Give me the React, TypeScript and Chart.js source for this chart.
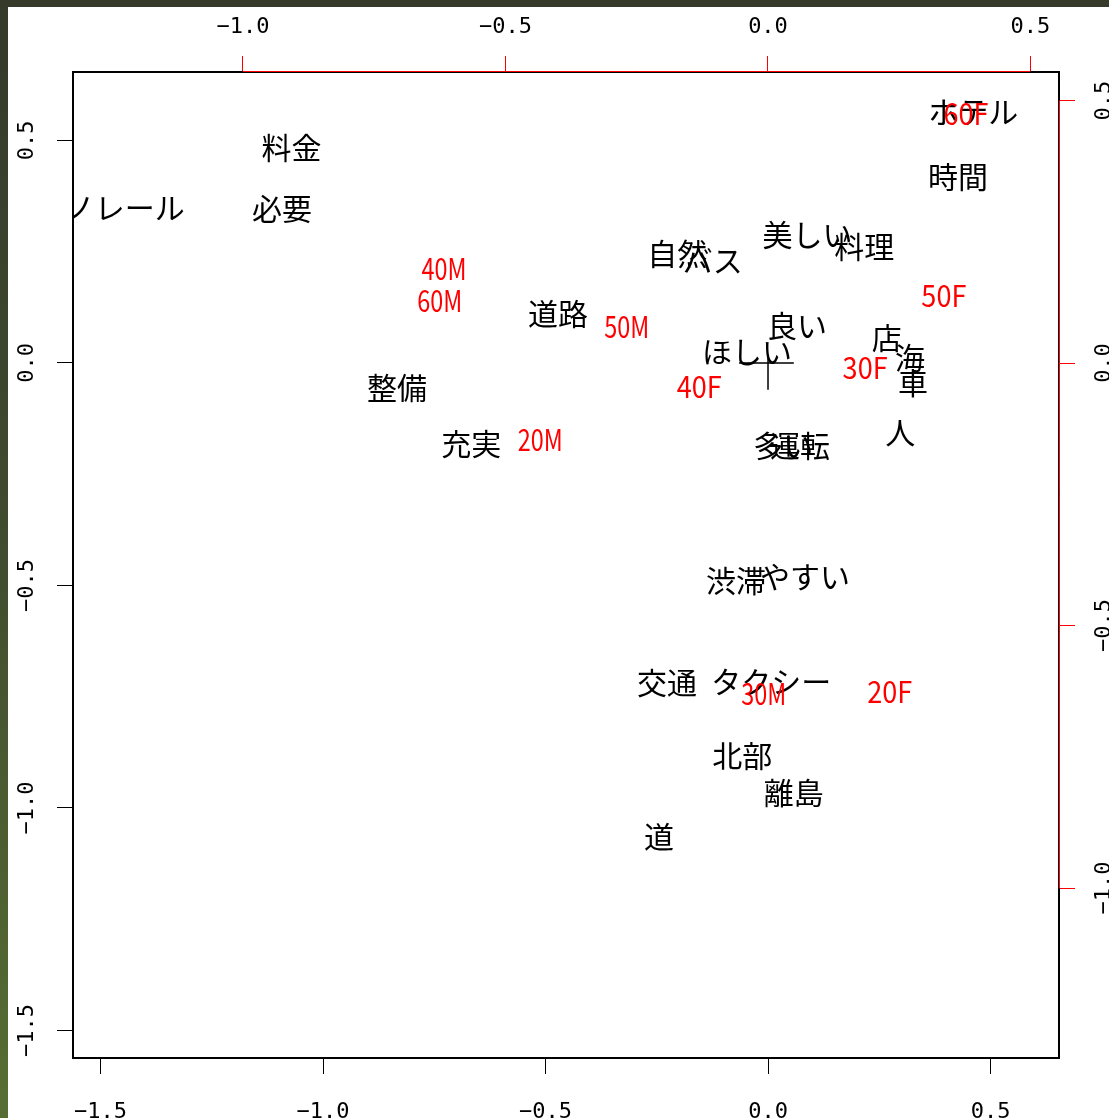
import React, { useEffect, useRef } from "react";
import { Chart, registerables } from "chart.js";

Chart.register(...registerables);

// ---- Data (correspondence analysis biplot) ----
const rowWords = [
  "モノレール", "料金", "必要", "整備", "充実", "道路", "自然", "バス", "美しい", "料理",
  "良い", "ほしい", "店", "海", "車", "人", "多い", "運転", "渋滞", "やすい",
  "交通", "タクシー", "北部", "離島", "道", "ホテル", "時間",
];
const rowX = [
  -1.479, -1.071, -1.092, -0.834, -0.667, -0.472, -0.204, -0.124, 0.089, 0.216,
  0.065, -0.047, 0.267, 0.319, 0.326, 0.297, 0.034, 0.072, -0.072, 0.083,
  -0.227, 0.007, -0.058, 0.058, -0.245, 0.461, 0.427,
];
const rowY = [
  0.349, 0.485, 0.348, -0.056, -0.182, 0.110, 0.245, 0.229, 0.288, 0.261,
  0.085, 0.025, 0.058, 0.011, -0.045, -0.157, -0.186, -0.186, -0.490, -0.479,
  -0.719, -0.717, -0.883, -0.966, -1.065, 0.564, 0.418,
];

const colWords = ["20M", "30M", "40M", "50M", "60M", "20F", "30F", "40F", "50F", "60F"];
const colX = [-0.434, -0.008, -0.617, -0.269, -0.625, 0.232, 0.185, -0.131, 0.335, 0.377];
const colY = [-0.145, -0.630, 0.179, 0.069, 0.118, -0.625, -0.008, -0.044, 0.128, 0.476];

// axis limits and ticks
const xLim = [-1.5618, 0.6539];
const yLim = [-1.5618, 0.6539];
const x2Lim = [-1.3238, 0.5543];
const y2Lim = [-1.3238, 0.5543];
const xTicks = [-1.5, -1.0, -0.5, 0.0, 0.5];
const yTicks = [-1.5, -1.0, -0.5, 0.0, 0.5];
const x2Ticks = [-1.0, -0.5, 0.0, 0.5];
const y2Ticks = [-1.0, -0.5, 0.0, 0.5];

// small "T" mark at the origin
const originH = [-0.065, 0.058];
const originV = [0.018, -0.06];

const LABEL_FONT_SIZE = 30;
const LABEL_FONT = `${LABEL_FONT_SIZE}px 'Noto Sans CJK JP'`;
const TICK_FONT = { family: "'DejaVu Sans Mono'", size: 22 };

function fmt(v: number) {
  const s = Math.abs(v).toFixed(1);
  return v < -1e-9 ? "\u2212" + s : s;
}

function drawLabel(ctx: CanvasRenderingContext2D, text: string, x: number, y: number, color: string) {
  ctx.font = LABEL_FONT;
  let target = 0;
  for (const ch of text) {
    target += (ch.codePointAt(0) || 0) > 0x2e80 ? LABEL_FONT_SIZE : LABEL_FONT_SIZE * 0.5;
  }
  const w = ctx.measureText(text).width;
  const sx = w > 0 ? target / w : 1;
  ctx.save();
  ctx.translate(x, y + LABEL_FONT_SIZE * 0.38);
  ctx.scale(sx, 1);
  ctx.fillStyle = color;
  ctx.textAlign = "center";
  ctx.textBaseline = "alphabetic";
  ctx.fillText(text, 0, 0);
  ctx.restore();
}

const biplotPlugin = {
  id: "biplotLabels",
  afterDatasetsDraw(chart: any) {
    const { ctx, chartArea, scales } = chart;
    ctx.save();
    ctx.beginPath();
    ctx.rect(chartArea.left, chartArea.top, chartArea.right - chartArea.left, chartArea.bottom - chartArea.top);
    ctx.clip();

    // origin mark
    const ox = scales.x.getPixelForValue(0);
    const oy = scales.y.getPixelForValue(0);
    ctx.strokeStyle = "#000";
    ctx.lineWidth = 1.5;
    ctx.beginPath();
    ctx.moveTo(scales.x.getPixelForValue(originH[0]), oy);
    ctx.lineTo(scales.x.getPixelForValue(originH[1]), oy);
    ctx.moveTo(ox, scales.y.getPixelForValue(originV[0]));
    ctx.lineTo(ox, scales.y.getPixelForValue(originV[1]));
    ctx.stroke();

    chart.data.datasets.forEach((ds: any, di: number) => {
      const meta = chart.getDatasetMeta(di);
      meta.data.forEach((el: any, i: number) => {
        drawLabel(ctx, ds.words[i], el.x, el.y, ds.labelColor);
      });
    });
    ctx.restore();
  },
  afterDraw(chart: any) {
    const { ctx, chartArea, scales } = chart;
    ctx.save();
    ctx.strokeStyle = "#ff0000";
    ctx.lineWidth = 1;
    ctx.beginPath();
    const ty = Math.round(chartArea.top) - 0.5;
    ctx.moveTo(scales.x2.getPixelForValue(x2Ticks[0]), ty);
    ctx.lineTo(scales.x2.getPixelForValue(x2Ticks[x2Ticks.length - 1]), ty);
    const rx = Math.round(chartArea.right) + 0.5;
    ctx.moveTo(rx, scales.y2.getPixelForValue(y2Ticks[y2Ticks.length - 1]));
    ctx.lineTo(rx, scales.y2.getPixelForValue(y2Ticks[0]));
    ctx.stroke();
    ctx.restore();
  },
};

function axis(opts: {
  position: string;
  lim: number[];
  ticks: number[];
  color: string;
  size: number;
  padding: number;
  vertical: boolean;
}) {
  return {
    type: "linear",
    position: opts.position,
    min: opts.lim[0],
    max: opts.lim[1],
    afterBuildTicks: (s: any) => {
      s.ticks = opts.ticks.map((v) => ({ value: v }));
    },
    afterFit: (s: any) => {
      if (opts.vertical) s.width = opts.size;
      else s.height = opts.size;
    },
    grid: {
      drawOnChartArea: false,
      drawTicks: true,
      tickLength: 16,
      tickColor: opts.color,
      tickWidth: 1,
      color: opts.color,
    },
    border: { display: true, color: "#000", width: 2 },
    ticks: {
      font: TICK_FONT,
      color: "#000",
      padding: opts.padding,
      autoSkip: false,
      minRotation: opts.vertical ? 90 : 0,
      maxRotation: opts.vertical ? 90 : 0,
      crossAlign: opts.vertical ? "center" : "near",
      callback: (v: any) => fmt(Number(v)),
    },
  };
}

export default function App() {
  const ref = useRef<HTMLCanvasElement | null>(null);

  useEffect(() => {
    if (!ref.current) return;
    const chart = new Chart(ref.current, {
      type: "scatter",
      data: {
        datasets: [
          {
            label: "rows",
            words: rowWords,
            labelColor: "#000000",
            data: rowX.map((x, i) => ({ x, y: rowY[i] })),
            xAxisID: "x",
            yAxisID: "y",
            pointRadius: 0,
          } as any,
          {
            label: "cols",
            words: colWords,
            labelColor: "#ff0000",
            data: colX.map((x, i) => ({ x, y: colY[i] })),
            xAxisID: "x2",
            yAxisID: "y2",
            pointRadius: 0,
          } as any,
        ],
      },
      options: {
        responsive: false,
        animation: false,
        devicePixelRatio: 1,
        layout: { padding: 0 },
        plugins: { legend: { display: false }, tooltip: { enabled: false } },
        events: [],
        scales: {
          x: axis({ position: "bottom", lim: xLim, ticks: xTicks, color: "#000", size: 60, padding: 25, vertical: false }),
          x2: axis({ position: "top", lim: x2Lim, ticks: x2Ticks, color: "#ff0000", size: 72, padding: 16, vertical: false }),
          y: axis({ position: "left", lim: yLim, ticks: yTicks, color: "#000", size: 73, padding: 3, vertical: true }),
          y2: axis({ position: "right", lim: y2Lim, ticks: y2Ticks, color: "#ff0000", size: 50, padding: 3, vertical: true }),
        } as any,
      } as any,
      plugins: [biplotPlugin],
    });
    return () => chart.destroy();
  }, []);

  return (
    <div
      style={{
        position: "fixed",
        left: 0,
        top: 0,
        width: 1109,
        height: 1118,
        background: "linear-gradient(to bottom, #353a2b 0%, #3f4a2e 45%, #576e33 100%)",
        overflow: "hidden",
      }}
    >
      <div style={{ position: "absolute", left: 8, top: 7, right: 0, bottom: 0, background: "#ffffff" }} />
      <canvas
        ref={ref}
        width={1109}
        height={1118}
        style={{ position: "absolute", left: 0, top: 0, width: 1109, height: 1118 }}
      />
    </div>
  );
}
